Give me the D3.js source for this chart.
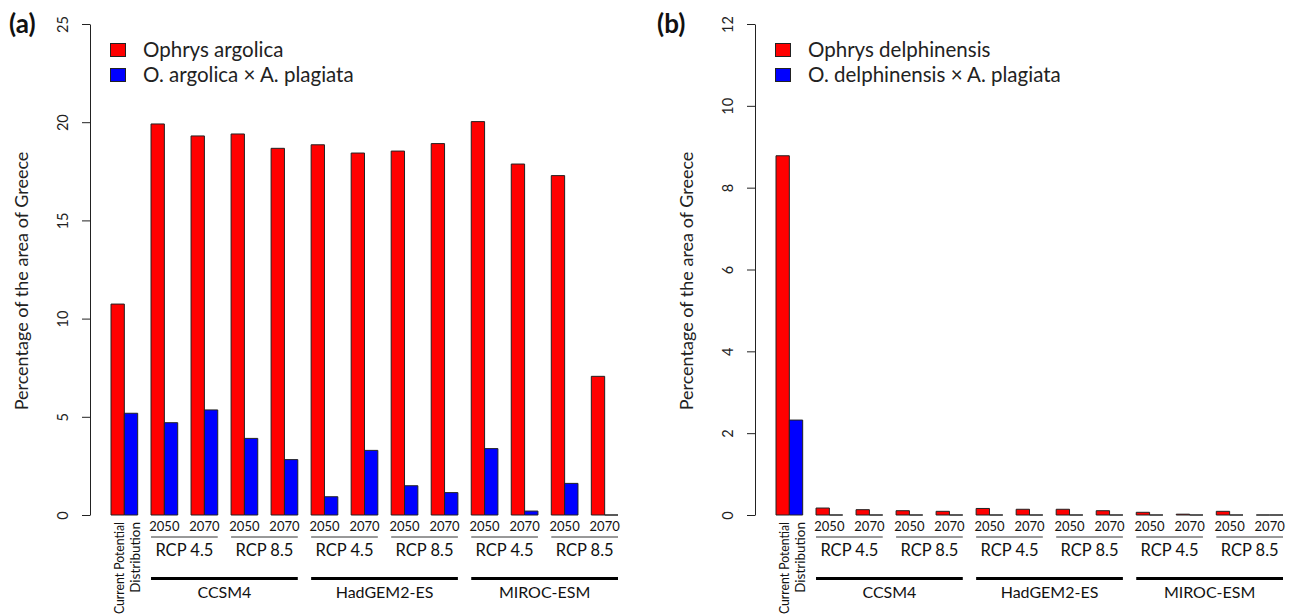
<!DOCTYPE html>
<html>
<head>
<meta charset="utf-8">
<script src="https://cdn.jsdelivr.net/npm/d3@7"></script>
<style>
  body { margin: 0; background: #fff; }
  svg { display: block; font-family: Lato, "Open Sans", sans-serif; }
</style>
</head>
<body>
<svg id="chart" width="1299" height="616"></svg>
<script>
// x categories
const models = ["CCSM4", "HadGEM2-ES", "MIROC-ESM"];
const scenarios = ["RCP 4.5", "RCP 8.5"];
const years = ["2050", "2070"];
const currentLabel = ["Current Potential", "Distribution"];

// panel (a): percentage of the area of Greece
const argolica = [10.74, 19.91, 19.30, 19.40, 18.67, 18.85, 18.43, 18.53, 18.91, 20.03, 17.87, 17.28, 7.06];
const argolicaHybrid = [5.18, 4.70, 5.35, 3.90, 2.82, 0.93, 3.29, 1.49, 1.14, 3.38, 0.20, 1.61, 0];
const ticksA = [0, 5, 10, 15, 20, 25];

// panel (b)
const delphinensis = [8.78, 0.17, 0.13, 0.105, 0.09, 0.16, 0.14, 0.14, 0.105, 0.066, 0.02, 0.09, 0];
const delphinensisHybrid = [2.32, 0, 0, 0, 0, 0, 0, 0, 0, 0, 0, 0, 0];
const ticksB = [0, 2, 4, 6, 8, 10, 12];

const groups = ["current"].concat(
    models.flatMap(m => scenarios.flatMap(s => years.map(y => [m, s, y].join("|")))));

const svg = d3.select("#chart");
svg.append("rect").attr("width", 1299).attr("height", 616).attr("fill", "#fff");

function drawPanel(opt) {
    let g = svg.append("g").attr("transform", "translate(" + opt.dx + ",0)");

    let x = d3.scaleBand()
        .domain(groups)
        .range([111, 618])
        .paddingInner(1 / 3)
        .paddingOuter(0);

    let inner = d3.scaleBand()
        .domain(["red", "blue"])
        .range([0, x.bandwidth()]);

    let y = d3.scaleLinear()
        .domain([0, d3.max(opt.ticks)])
        .range([515, 24]);

    // y axis, R style
    let axis = g.append("g")
        .attr("transform", "translate(90,0)")
        .call(d3.axisLeft(y).tickValues(opt.ticks).tickSize(8).tickSizeOuter(0));
    axis.select(".domain").attr("stroke", "#222");
    axis.selectAll(".tick line").attr("stroke", "#222");
    axis.selectAll(".tick text")
        .attr("transform", "rotate(-90)")
        .attr("x", 0)
        .attr("y", -22)
        .attr("dy", 0)
        .attr("text-anchor", "middle")
        .attr("font-size", 14.5)
        .attr("font-family", "Lato, 'Open Sans', sans-serif")
        .attr("fill", "#222");

    g.append("text")
        .attr("transform", "translate(28,281) rotate(-90)")
        .attr("text-anchor", "middle")
        .attr("font-size", 18)
        .attr("fill", "#222")
        .text("Percentage of the area of Greece");

    // bars
    let bar = (x0, w, v) => "M" + x0 + "," + y(0) + "V" + y(v) + "H" + (x0 + w) + "V" + y(0) + "Z";
    let series = [
        {key: "red", color: "#ff0000", values: opt.species},
        {key: "blue", color: "#0000ff", values: opt.hybrid}
    ];
    series.forEach(s => {
        g.append("g").selectAll("path")
            .data(groups)
            .enter()
            .append("path")
            .attr("d", (d, i) => bar(x(d) + inner(s.key), inner.bandwidth(), s.values[i]))
            .attr("fill", s.color)
            .attr("stroke", "#222")
            .attr("stroke-width", 1);
    });

    // labels under bars
    let lab = g.append("g").attr("fill", "#111");
    let first = groups[0];
    let cur = lab.selectAll(".cur")
        .data(currentLabel)
        .enter()
        .append("text")
        .attr("class", "cur")
        .attr("transform", (t, i) => "translate(" + (x(first) + 13 + i * 15.5) + ",522) rotate(-90)")
        .attr("text-anchor", "end")
        .attr("font-size", 13.5)
        .text(t => t);
    // squeeze the long line a bit so it stays inside the picture
    let len = cur.node().getComputedTextLength();
    if (len > 92) {
        cur.filter((t, i) => i === 0)
            .attr("textLength", 92)
            .attr("lengthAdjust", "spacingAndGlyphs");
    }

    models.forEach(m => {
        let mg = groups.filter(d => d.startsWith(m + "|"));
        scenarios.forEach(sc => {
            let sg = mg.filter(d => d.split("|")[1] === sc);
            sg.forEach(d => {
                lab.append("text")
                    .attr("x", x(d) + x.bandwidth() / 2)
                    .attr("y", 531)
                    .attr("text-anchor", "middle")
                    .attr("font-size", 13)
                    .text(d.split("|")[2]);
            });
            let x0 = x(sg[0]), x1 = x(sg[sg.length - 1]) + x.bandwidth();
            lab.append("line")
                .attr("x1", x0).attr("x2", x1)
                .attr("y1", 537).attr("y2", 537)
                .attr("stroke", "#333").attr("stroke-width", 1);
            lab.append("text")
                .attr("x", (x0 + x1) / 2)
                .attr("y", 556)
                .attr("text-anchor", "middle")
                .attr("font-size", 16.5)
                .text(sc);
        });
        let x0 = x(mg[0]), x1 = x(mg[mg.length - 1]) + x.bandwidth();
        lab.append("line")
            .attr("x1", x0).attr("x2", x1)
            .attr("y1", 578.5).attr("y2", 578.5)
            .attr("stroke", "#000").attr("stroke-width", 3);
        lab.append("text")
            .attr("x", (x0 + x1) / 2)
            .attr("y", 598)
            .attr("text-anchor", "middle")
            .attr("font-size", 16)
            .text(m);
    });

    // legend
    let leg = g.append("g");
    series.forEach((s, i) => {
        leg.append("rect")
            .attr("x", 110.5).attr("y", 43.5 + i * 25)
            .attr("width", 15).attr("height", 13)
            .attr("fill", s.color)
            .attr("stroke", "#222");
        leg.append("text")
            .attr("x", 143).attr("y", 57 + i * 25)
            .attr("font-size", 20.5)
            .attr("fill", "#222")
            .text(opt.legend[i]);
    });

    svg.append("text")
        .attr("x", opt.labelX).attr("y", 33)
        .attr("font-size", 26)
        .attr("font-weight", "bold")
        .attr("fill", "#111")
        .text(opt.label);
}

drawPanel({
    dx: 0, labelX: 9, label: "(a)",
    species: argolica, hybrid: argolicaHybrid, ticks: ticksA,
    legend: ["Ophrys argolica", "O. argolica \u00d7 A. plagiata"]
});
drawPanel({
    dx: 665, labelX: 657, label: "(b)",
    species: delphinensis, hybrid: delphinensisHybrid, ticks: ticksB,
    legend: ["Ophrys delphinensis", "O. delphinensis \u00d7 A. plagiata"]
});
</script>
</body>
</html>
